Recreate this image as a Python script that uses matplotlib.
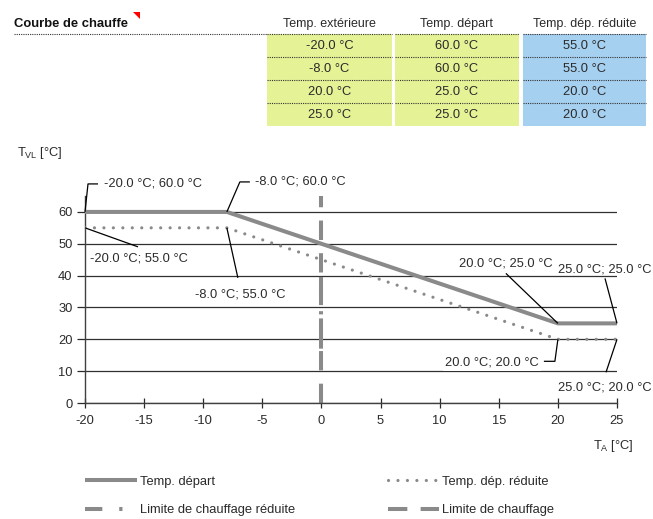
import matplotlib
matplotlib.use('Agg')
import matplotlib.pyplot as plt
from matplotlib.patches import Rectangle, Polygon

# Data
outside_temp = [-20.0, -8.0, 20.0, 25.0]
flow_temp = [60.0, 60.0, 25.0, 25.0]
flow_temp_reduced = [55.0, 55.0, 20.0, 20.0]
heating_limit = 0.0
heating_limit_reduced = 0.0
col_headers = ['Temp. extérieure', 'Temp. départ', 'Temp. dép. réduite']
x_ticks = [-20, -15, -10, -5, 0, 5, 10, 15, 20, 25]
y_ticks = [0, 10, 20, 30, 40, 50, 60]

# Layout / style
W, H = 653, 519
GRAY = '#8a8a8a'
DARK = '#2a2a2a'
YELLOW = '#e5f296'
BLUE = '#a6d0f0'
FS = 9.3

plt.rcParams['font.family'] = ['Liberation Sans', 'DejaVu Sans']
plt.rcParams['font.size'] = FS
plt.rcParams['text.color'] = DARK
plt.rcParams['axes.unicode_minus'] = False
plt.rcParams['mathtext.fontset'] = 'custom'
plt.rcParams['mathtext.rm'] = 'Liberation Sans'
plt.rcParams['mathtext.it'] = 'Liberation Sans'


def px_rect(l, t, r, b):
    return [l / W, 1 - b / H, (r - l) / W, (b - t) / H]


fig = plt.figure(figsize=(W / 100, H / 100), dpi=100)

# main chart
ax = fig.add_axes(px_rect(85, 196, 617, 403))
ax.set_xlim(-20, 25)
ax.set_ylim(0, 65)
ax.set_xticks(x_ticks)
ax.set_yticks(y_ticks)
for s in ['top', 'right']:
    ax.spines[s].set_visible(False)
for s in ['left', 'bottom']:
    ax.spines[s].set_color('#404040')
    ax.spines[s].set_linewidth(1.0)
ax.yaxis.grid(True, color='#303030', lw=0.9, zorder=1)
ax.set_axisbelow(True)
ax.tick_params(axis='y', direction='out', length=6, width=0.9, pad=3, colors=DARK, labelsize=FS)
ax.tick_params(axis='x', direction='inout', length=7, width=0.9, pad=5, colors=DARK, labelsize=FS)

l_dep, = ax.plot(outside_temp, flow_temp, color=GRAY, lw=2.9,
                 solid_capstyle='butt', label='Temp. départ', zorder=3)
l_red, = ax.plot(outside_temp, flow_temp_reduced, color=GRAY, lw=2.3,
                 linestyle=(0, (0.01, 2.95)), dash_capstyle='round',
                 label='Temp. dép. réduite', zorder=3)
l_lim_red = ax.axvline(heating_limit_reduced, color=GRAY, lw=2.9,
                       linestyle=(0, (4.3, 4.2, 0.8, 4.2)),
                       label='Limite de chauffage réduite', zorder=2)
l_lim = ax.axvline(heating_limit, color=GRAY, lw=2.9,
                   linestyle=(0, (4.8, 3.3)),
                   label='Limite de chauffage', zorder=2)

# overlay in pixel coordinates (y down) for the table and labels
ov = fig.add_axes([0, 0, 1, 1], zorder=5)
ov.set_xlim(0, W)
ov.set_ylim(H, 0)
ov.axis('off')

# table at the top
ov.text(14, 24, 'Courbe de chauffe', weight='bold', ha='left', va='center',
        color='#111111', size=9.4)
ov.add_patch(Polygon([(133, 12), (140, 12), (140, 19)], closed=True, color='red', lw=0))
ov.plot([14, 267], [34, 34], color='#333333', lw=0.8, linestyle=(0, (1, 1)))

col_edges = [(267, 392), (395, 519), (523, 646)]
col_colors = [YELLOW, YELLOW, BLUE]
table_cols = [outside_temp, flow_temp, flow_temp_reduced]
top, row_h = 34, 23
for (l, r), color, header, values in zip(col_edges, col_colors, col_headers, table_cols):
    ov.text((l + r) / 2, 24, header, ha='center', va='center', size=9)
    for i, v in enumerate(values):
        y0 = top + i * row_h
        ov.add_patch(Rectangle((l, y0), r - l, row_h, color=color, lw=0))
        ov.text((l + r) / 2, y0 + row_h / 2 + 0.5, f'{v:.1f} °C', ha='center',
                va='center', size=9.3)
    for i in range(len(values)):
        ov.plot([l, r], [top + i * row_h] * 2, color='#333333', lw=0.8, linestyle=(0, (1, 1)))

# axis titles
ov.text(17, 153, r'$\mathrm{T_{VL}}$ [°C]', ha='left', va='center')
ov.text(593, 446, r'$\mathrm{T_{A}}$ [°C]', ha='left', va='center')

# point labels: leader path and text offset in pixels from the point (y down)
dep_layout = [
    ([(0, 0), (3, -28), (13, -28)], (19, -28), 'left'),
    ([(0, 0), (13, -30), (23, -30)], (28, -30), 'left'),
    ([(0, 0), (-52, -50)], (-52, -60), 'center'),
    ([(0, 0), (-12, -45)], (-59, -54), 'left'),
]
red_layout = [
    ([(0, 0), (53, 19)], (5, 31), 'left'),
    ([(0, 0), (11, 50)], (13, 67), 'center'),
    ([(0, 0), (-3, 22), (-14, 22)], (-19, 23), 'right'),
    ([(0, 0), (-11, 33)], (-59, 48), 'left'),
]


def to_px(x, y):
    dx, dy = ax.transData.transform((x, y))
    return dx, H - dy


for series, layout in [(flow_temp, dep_layout), (flow_temp_reduced, red_layout)]:
    for x, y, (path, toff, ha) in zip(outside_temp, series, layout):
        px, py = to_px(x, y)
        ov.plot([px + a for a, b in path], [py + b for a, b in path],
                color='black', lw=0.9, solid_capstyle='butt')
        bbox = None
        if ha == 'right':
            bbox = dict(boxstyle='square,pad=0.2', fc='white', ec='none')
        ov.text(px + toff[0], py + toff[1], f'{x:.1f} °C; {y:.1f} °C',
                ha=ha, va='center', bbox=bbox)

# legend
fig.legend(handles=[l_dep, l_lim_red, l_red, l_lim], ncol=2, loc='center left',
           bbox_to_anchor=(85 / W, 1 - 496 / H), frameon=False, borderpad=0,
           borderaxespad=0, handlelength=4.0, handletextpad=0.23,
           columnspacing=7.2, labelspacing=1.25)

fig.savefig('out.png', dpi=100)
